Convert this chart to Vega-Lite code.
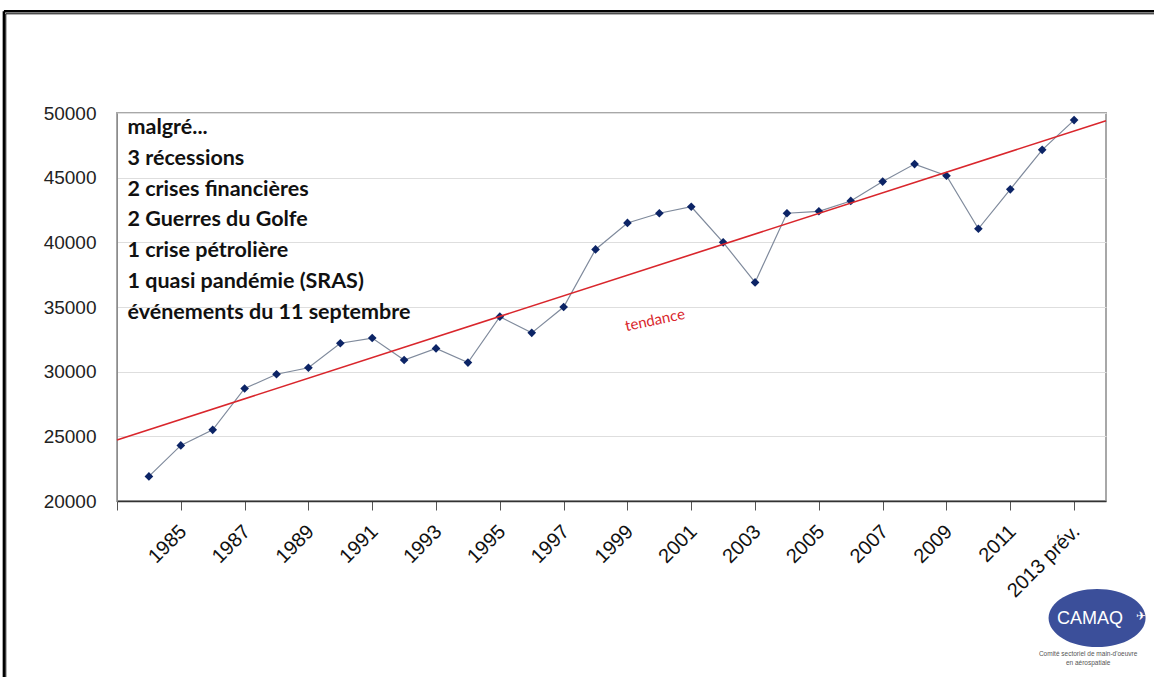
{
  "$schema": "https://vega.github.io/schema/vega-lite/v6.json",
  "width": 989,
  "height": 388,
  "autosize": {"type": "none"},
  "padding": {"left": 117, "top": 113, "right": 48, "bottom": 176},
  "background": "white",
  "config": {
    "view": {"stroke": "#a8a8a8", "strokeWidth": 2},
    "font": "Liberation Sans"
  },
  "datasets": {
    "series": [
      {"year": 1984, "value": 21900},
      {"year": 1985, "value": 24300},
      {"year": 1986, "value": 25500},
      {"year": 1987, "value": 28700},
      {"year": 1988, "value": 29800},
      {"year": 1989, "value": 30300},
      {"year": 1990, "value": 32200},
      {"year": 1991, "value": 32600},
      {"year": 1992, "value": 30900},
      {"year": 1993, "value": 31800},
      {"year": 1994, "value": 30700},
      {"year": 1995, "value": 34250},
      {"year": 1996, "value": 33000},
      {"year": 1997, "value": 35000},
      {"year": 1998, "value": 39450},
      {"year": 1999, "value": 41500},
      {"year": 2000, "value": 42250},
      {"year": 2001, "value": 42750},
      {"year": 2002, "value": 40000},
      {"year": 2003, "value": 36900},
      {"year": 2004, "value": 42250},
      {"year": 2005, "value": 42400},
      {"year": 2006, "value": 43200},
      {"year": 2007, "value": 44700},
      {"year": 2008, "value": 46050},
      {"year": 2009, "value": 45150},
      {"year": 2010, "value": 41050},
      {"year": 2011, "value": 44100},
      {"year": 2012, "value": 47150},
      {"year": 2013, "value": 49450}
    ],
    "trend": [
      {"year": 1983, "value": 24716},
      {"year": 2014, "value": 49405}
    ]
  },
  "layer": [
    {
      "data": {"name": "series"},
      "mark": {"type": "line", "color": "#7f8a9c", "strokeWidth": 1.2},
      "encoding": {
        "x": {
          "field": "year",
          "type": "quantitative",
          "scale": {"domain": [1983, 2014], "nice": false, "zero": false},
          "axis": {
            "title": null,
            "values": [1983,1984,1985,1986,1987,1988,1989,1990,1991,1992,1993,1994,1995,1996,1997,1998,1999,2000,2001,2002,2003,2004,2005,2006,2007,2008,2009,2010,2011,2012,2013,2014],
            "labelExpr": "datum.value == 2013 ? '2013 prév.' : ((datum.value % 2 == 1 && datum.value >= 1985) ? toString(datum.value) : '')",
            "labelAngle": -45,
            "labelAlign": "right",
            "labelBaseline": "top",
            "labelFontSize": 20,
            "labelFont": "Liberation Sans",
            "labelColor": "#111111",
            "labelPadding": 11,
            "labelOffset": -5,
            "labelOverlap": false,
            "labelFlush": false,
            "labelBound": false,
            "tickSize": 9,
            "tickColor": "#555555",
            "domainColor": "#333333",
            "domainWidth": 1.5,
            "grid": false
          }
        },
        "y": {
          "field": "value",
          "type": "quantitative",
          "scale": {"domain": [20000, 50000], "nice": false, "zero": false},
          "axis": {
            "title": null,
            "values": [20000, 25000, 30000, 35000, 40000, 45000, 50000],
            "format": "d",
            "ticks": false,
            "labelPadding": 21,
            "labelFontSize": 19,
            "labelFont": "Liberation Sans",
            "labelColor": "#222222",
            "domainColor": "#8c8c8c",
            "gridColor": "#dedede",
            "gridWidth": 1
          }
        }
      }
    },
    {
      "data": {"name": "series"},
      "mark": {"type": "point", "shape": "diamond", "filled": true, "size": 75, "color": "#0c2466", "opacity": 1},
      "encoding": {
        "x": {"field": "year", "type": "quantitative"},
        "y": {"field": "value", "type": "quantitative"}
      }
    },
    {
      "data": {"name": "trend"},
      "mark": {"type": "line", "color": "#d9262c", "strokeWidth": 1.6},
      "encoding": {
        "x": {"field": "year", "type": "quantitative"},
        "y": {"field": "value", "type": "quantitative"}
      }
    },
    {
      "data": {"values": [{}]},
      "mark": {
        "type": "text",
        "text": ["malgré...", "3 récessions", "2 crises financières", "2 Guerres du Golfe", "1 crise pétrolière", "1 quasi pandémie (SRAS)", "événements du 11 septembre"],
        "font": "Lato",
        "fontWeight": "bold",
        "fontSize": 21.5,
        "lineHeight": 30.8,
        "align": "left",
        "baseline": "top",
        "color": "#111111",
        "dx": 10.5,
        "dy": 4
      },
      "encoding": {
        "x": {"datum": 1983},
        "y": {"datum": 50000}
      }
    },
    {
      "data": {"values": [{}]},
      "mark": {
        "type": "text",
        "text": "tendance",
        "font": "Lato",
        "fontSize": 15,
        "angle": -12,
        "align": "center",
        "baseline": "middle",
        "color": "#d9262c"
      },
      "encoding": {
        "x": {"datum": 1999.86},
        "y": {"datum": 33994}
      }
    },
    {
      "data": {"values": [{}]},
      "mark": {
        "type": "point",
        "shape": "M-1,0A1,0.6,0,1,1,1,0A1,0.6,0,1,1,-1,0Z",
        "size": 9409,
        "filled": true,
        "color": "#3b4f9a",
        "opacity": 1
      },
      "encoding": {
        "x": {"datum": 2013.72},
        "y": {"datum": 10953}
      }
    },
    {
      "data": {"values": [{}]},
      "mark": {
        "type": "text",
        "text": "CAMAQ",
        "font": "Liberation Sans",
        "fontSize": 18,
        "align": "center",
        "baseline": "middle",
        "color": "white"
      },
      "encoding": {
        "x": {"datum": 2013.5},
        "y": {"datum": 10900}
      }
    },
    {
      "data": {"values": [{}]},
      "mark": {
        "type": "text",
        "text": "✈",
        "font": "DejaVu Sans",
        "fontSize": 12,
        "align": "center",
        "baseline": "middle",
        "color": "white"
      },
      "encoding": {
        "x": {"datum": 2015.1},
        "y": {"datum": 11100}
      }
    },
    {
      "data": {"values": [{}]},
      "mark": {
        "type": "text",
        "text": ["Comité sectoriel de main-d'oeuvre", "en aérospatiale"],
        "font": "Liberation Sans",
        "fontSize": 6.5,
        "lineHeight": 9,
        "align": "center",
        "baseline": "middle",
        "color": "#555555"
      },
      "encoding": {
        "x": {"datum": 2013.44},
        "y": {"datum": 8170}
      }
    },
    {
      "data": {"values": [{}]},
      "mark": {"type": "rule", "color": "#000000", "strokeWidth": 2.5},
      "encoding": {
        "x": {"datum": 1979.455},
        "x2": {"datum": 2020},
        "y": {"datum": 57871}
      }
    },
    {
      "data": {"values": [{}]},
      "mark": {"type": "rule", "color": "#000000", "strokeWidth": 2.5},
      "encoding": {
        "x": {"datum": 1979.455},
        "y": {"datum": 57871},
        "y2": {"datum": 0}
      }
    },
    {
      "data": {"values": [{}]},
      "mark": {"type": "rule", "color": "#000000", "strokeWidth": 1},
      "encoding": {
        "x": {"datum": 1979.514},
        "x2": {"datum": 2020},
        "y": {"datum": 57670}
      }
    },
    {
      "data": {"values": [{}]},
      "mark": {"type": "rule", "color": "#000000", "strokeWidth": 1},
      "encoding": {
        "x": {"datum": 1979.514},
        "y": {"datum": 57670},
        "y2": {"datum": 0}
      }
    }
  ]
}
